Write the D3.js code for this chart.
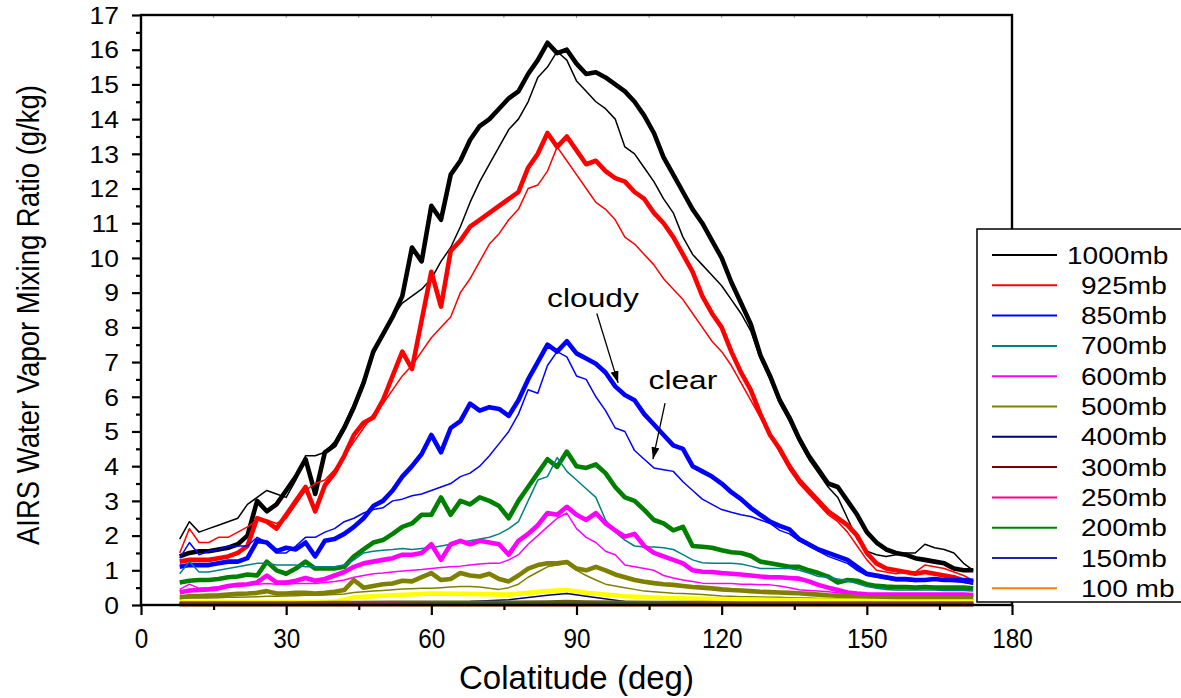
<!DOCTYPE html>
<html>
<head>
<meta charset="utf-8">
<script src="https://cdn.jsdelivr.net/npm/d3@7"></script>
<style>
  html, body { margin: 0; padding: 0; background: #fff; }
  svg { display: block; }
  text { font-family: "Liberation Sans", Arial, Helvetica, sans-serif; fill: #000; }
</style>
</head>
<body>
<svg id="chart" width="1181" height="698"></svg>
<script>
// Colatitude grid (deg) for the main pressure levels
const colat = [8, 10, 12, 14, 16, 18, 20, 22, 24, 26, 28, 30, 32, 34, 36, 38, 40, 42, 44, 46,
  48, 50, 52, 54, 56, 58, 60, 62, 64, 66, 68, 70, 72, 74, 76, 78, 80, 82, 84, 86,
  88, 90, 92, 94, 96, 98, 100, 102, 104, 106, 108, 110, 112, 114, 116, 118, 120, 122, 124, 126,
  128, 130, 132, 134, 136, 138, 140, 142, 144, 146, 148, 150, 152, 154, 156, 158, 160, 162, 164, 166,
  168, 170, 172];

// Coarser grid for the upper levels, whose values stay close to zero
const colatLow = [8, 16, 24, 32, 40, 44, 52, 60, 68, 76, 84, 88, 92, 100, 108, 116, 124, 132, 140, 148, 156, 164, 172];

// Mixing ratio (g/kg): cloudy scenes (thick) and clear scenes (thin)
const cloudy1000 = [1.4, 1.5, 1.55, 1.55, 1.6, 1.65, 1.75, 2.0, 3.0, 2.7,
  2.9, 3.3, 3.7, 4.2, 3.2, 4.4, 4.6, 5.1, 5.7, 6.4,
  7.3, 7.8, 8.3, 8.9, 10.3, 9.9, 11.5, 11.1, 12.4, 12.8,
  13.4, 13.8, 14.0, 14.3, 14.6, 14.8, 15.3, 15.7, 16.2, 15.9,
  16.0, 15.6, 15.3, 15.35, 15.2, 15.0, 14.8, 14.5, 14.1, 13.6,
  12.9, 12.4, 11.9, 11.4, 11.0, 10.5, 10.0, 9.3, 8.7, 8.1,
  7.2, 6.6, 5.9, 5.4, 4.8, 4.3, 3.9, 3.5, 3.4, 3.0,
  2.6, 2.1, 1.8, 1.6, 1.5, 1.45, 1.35, 1.3, 1.25, 1.2,
  1.05, 1.0, 1.0];
const clear1000 = [1.9, 2.4, 2.1, 2.2, 2.3, 2.4, 2.5, 2.9, 3.1, 3.3,
  3.2, 3.1, 3.6, 4.3, 4.3, 4.4, 4.7, 5.2, 5.8, 6.5,
  7.2, 7.8, 8.3, 8.7, 8.9, 9.1, 9.4, 9.9, 10.3, 10.9,
  11.6, 12.2, 12.7, 13.2, 13.7, 14.0, 14.5, 15.2, 15.5, 15.95,
  15.7, 15.1, 14.8, 14.5, 14.3, 14.0, 13.2, 13.0, 12.6, 12.2,
  11.7, 11.3, 10.6, 10.1, 9.8, 9.5, 9.2, 8.8, 8.4, 7.9,
  7.1, 6.5, 5.8, 5.3, 4.7, 4.2, 3.8, 3.4, 3.1, 2.5,
  1.9, 1.55, 1.45, 1.4, 1.45, 1.5, 1.5, 1.75, 1.65, 1.6,
  1.5, 1.2, 1.0];
const cloudy925 = [1.25, 1.3, 1.3, 1.3, 1.35, 1.4, 1.5, 1.7, 2.5, 2.4,
  2.2, 2.6, 3.0, 3.4, 2.7, 3.45, 3.8, 4.3, 4.9, 5.25,
  5.4, 5.9, 6.6, 7.3, 6.8, 8.2, 9.6, 8.6, 10.2, 10.5,
  10.9, 11.1, 11.3, 11.5, 11.7, 11.9, 12.6, 13.0, 13.6, 13.2,
  13.5, 13.1, 12.7, 12.8, 12.5, 12.3, 12.2, 11.9, 11.7, 11.3,
  11.0, 10.6, 10.1, 9.6, 8.9, 8.4, 8.0, 7.3, 6.7, 6.2,
  5.5, 4.9, 4.5, 4.0, 3.6, 3.3, 3.0, 2.7, 2.5, 2.3,
  2.0, 1.5, 1.2, 1.05, 1.0, 0.95, 0.9, 0.95, 0.9, 0.85,
  0.8, 0.7, 0.65];
const clear925 = [1.5, 2.2, 1.8, 1.8, 1.95, 1.95, 2.1, 2.25, 2.45, 2.45,
  2.35, 2.5, 2.9, 3.3, 3.5, 3.6, 3.9, 4.3, 4.7, 5.1,
  5.5, 5.8, 6.2, 6.6, 6.9, 7.3, 7.7, 8.0, 8.3, 9.0,
  9.4, 9.9, 10.4, 10.7, 11.1, 11.4, 12.0, 12.1, 12.5, 13.2,
  12.8, 12.4, 12.0, 11.6, 11.4, 11.1, 10.6, 10.4, 10.1, 9.8,
  9.4, 9.1, 8.8, 8.4, 8.0, 7.6, 7.3, 6.9, 6.4, 5.9,
  5.4, 4.9, 4.4, 3.9, 3.5, 3.2, 2.9, 2.6, 2.4, 2.1,
  1.7, 1.3, 1.0, 0.95, 0.9, 0.95, 0.95, 1.15, 1.1, 1.05,
  0.95, 0.85, 0.7];
const cloudy850 = [1.1, 1.15, 1.15, 1.15, 1.2, 1.25, 1.25, 1.35, 1.85, 1.8,
  1.55, 1.65, 1.6, 1.8, 1.4, 1.85, 1.9, 2.05, 2.25, 2.5,
  2.85, 3.0, 3.3, 3.7, 4.0, 4.35, 4.9, 4.4, 5.1, 5.3,
  5.8, 5.6, 5.7, 5.65, 5.45, 5.9, 6.5, 7.0, 7.5, 7.3,
  7.6, 7.25, 7.1, 6.95, 6.7, 6.3, 6.05, 5.9, 5.5, 5.2,
  4.9, 4.6, 4.5, 4.0, 3.85, 3.7, 3.5, 3.25, 3.05, 2.8,
  2.6, 2.4, 2.28, 2.18, 1.9, 1.75, 1.6, 1.5, 1.4, 1.3,
  1.1, 0.9, 0.85, 0.8, 0.75, 0.75, 0.72, 0.72, 0.75, 0.72,
  0.72, 0.72, 0.7];
const clear850 = [1.35, 1.8, 1.45, 1.55, 1.6, 1.7, 1.7, 1.7, 1.95, 1.8,
  1.5, 1.5, 1.7, 1.95, 1.95, 2.1, 2.2, 2.4, 2.5, 2.65,
  2.75, 2.8, 3.0, 3.05, 3.15, 3.2, 3.3, 3.4, 3.5, 3.7,
  3.8, 4.0, 4.3, 4.65, 5.0, 5.5, 6.2, 6.1, 6.9, 7.3,
  7.15, 6.6, 6.5, 6.0, 5.6, 5.1, 5.0, 4.45, 4.2, 3.95,
  3.9, 3.85, 3.55, 3.3, 3.05, 2.9, 2.75, 2.67, 2.6, 2.55,
  2.45, 2.35, 2.15, 2.05, 1.85, 1.7, 1.55, 1.4, 1.3, 1.2,
  1.0, 0.85, 0.8, 0.75, 0.7, 0.7, 0.68, 0.7, 0.72, 0.7,
  0.68, 0.65, 0.6];
const cloudy700 = [0.65, 0.7, 0.72, 0.72, 0.75, 0.8, 0.82, 0.88, 0.85, 1.25,
  1.0, 0.9, 1.05, 1.25, 1.05, 1.05, 1.05, 1.1, 1.4, 1.6,
  1.8, 1.87, 2.05, 2.25, 2.35, 2.6, 2.6, 3.1, 2.6, 3.0,
  2.9, 3.1, 3.0, 2.85, 2.5, 3.0, 3.4, 3.8, 4.2, 3.98,
  4.42, 4.0, 3.95, 4.05, 3.8, 3.4, 3.1, 3.0, 2.74, 2.45,
  2.35, 2.15, 2.25, 1.7, 1.68, 1.65, 1.58, 1.52, 1.5, 1.42,
  1.25, 1.2, 1.15, 1.1, 1.1, 1.0, 0.92, 0.82, 0.65, 0.72,
  0.7, 0.6, 0.55, 0.53, 0.52, 0.52, 0.5, 0.52, 0.5, 0.5,
  0.5, 0.5, 0.48];
const clear700 = [0.9, 1.25, 0.95, 0.95, 1.0, 1.05, 1.1, 1.15, 1.2, 1.2,
  1.15, 1.15, 1.15, 1.1, 1.1, 1.1, 1.1, 1.15, 1.3, 1.5,
  1.55, 1.58, 1.6, 1.63, 1.6, 1.63, 1.65, 1.7, 1.75, 1.8,
  1.85, 1.9, 1.95, 2.05, 2.2, 2.4, 3.0, 3.6, 3.7, 4.25,
  3.85, 3.6, 3.35, 3.1, 2.45, 2.1, 1.87, 1.7, 1.67, 1.67,
  1.65, 1.6, 1.45, 1.3, 1.22, 1.2, 1.2, 1.2, 1.18, 1.12,
  1.05, 1.05, 1.05, 1.05, 1.0, 0.92, 0.82, 0.8, 0.75, 0.7,
  0.62, 0.53, 0.48, 0.45, 0.43, 0.43, 0.43, 0.43, 0.43, 0.42,
  0.42, 0.42, 0.4];
const cloudy600 = [0.37, 0.42, 0.43, 0.45, 0.48, 0.55, 0.58, 0.6, 0.65, 0.85,
  0.65, 0.65, 0.7, 0.78, 0.7, 0.75, 0.85, 0.95, 1.1, 1.2,
  1.25, 1.3, 1.35, 1.45, 1.45, 1.5, 1.75, 1.3, 1.75, 1.85,
  1.75, 1.85, 1.8, 1.75, 1.45, 1.85, 2.05, 2.3, 2.65, 2.6,
  2.83, 2.6, 2.45, 2.65, 2.35, 2.15, 1.97, 2.05, 1.7, 1.5,
  1.4, 1.3, 1.2, 1.0, 0.96, 0.95, 0.92, 0.9, 0.88, 0.85,
  0.82, 0.8, 0.8, 0.78, 0.76, 0.68, 0.58, 0.5, 0.43, 0.36,
  0.33, 0.31, 0.3, 0.3, 0.3, 0.3, 0.3, 0.3, 0.3, 0.3,
  0.3, 0.3, 0.29];
const clear600 = [0.45, 0.6, 0.48, 0.5, 0.52, 0.55, 0.55, 0.58, 0.6, 0.62,
  0.6, 0.6, 0.62, 0.62, 0.62, 0.65, 0.68, 0.72, 0.8, 0.85,
  0.9, 0.92, 0.95, 0.98, 1.0, 1.02, 1.05, 1.08, 1.1, 1.12,
  1.15, 1.18, 1.2, 1.2, 1.3, 1.45, 1.75, 2.0, 2.25, 2.5,
  2.65, 2.2, 1.95, 1.8, 1.55, 1.45, 1.15, 1.1, 1.05, 1.0,
  0.85, 0.78, 0.72, 0.68, 0.63, 0.62, 0.62, 0.62, 0.6, 0.6,
  0.58, 0.58, 0.55, 0.5, 0.44, 0.42, 0.4, 0.38, 0.35, 0.33,
  0.3, 0.28, 0.27, 0.26, 0.26, 0.26, 0.26, 0.26, 0.25, 0.25,
  0.25, 0.25, 0.25];
const cloudy500 = [0.23, 0.25, 0.26, 0.27, 0.28, 0.3, 0.32, 0.33, 0.35, 0.4,
  0.33, 0.33, 0.35, 0.35, 0.33, 0.35, 0.38, 0.43, 0.72, 0.5,
  0.55, 0.6, 0.62, 0.7, 0.68, 0.8, 0.92, 0.72, 0.75, 0.92,
  0.85, 0.82, 0.9, 0.75, 0.68, 0.85, 1.05, 1.15, 1.2, 1.2,
  1.24, 1.05, 1.0, 1.1, 1.0, 0.88, 0.8, 0.72, 0.67, 0.63,
  0.6, 0.58, 0.55, 0.52, 0.5, 0.48, 0.45, 0.43, 0.42, 0.4,
  0.38, 0.37, 0.36, 0.35, 0.34, 0.32, 0.3, 0.28, 0.27, 0.25,
  0.22, 0.2, 0.2, 0.2, 0.2, 0.2, 0.2, 0.2, 0.2, 0.2,
  0.2, 0.2, 0.2];
const clear500 = [0.18, 0.2, 0.2, 0.2, 0.21, 0.22, 0.22, 0.23, 0.24, 0.25,
  0.25, 0.26, 0.27, 0.28, 0.28, 0.29, 0.3, 0.32, 0.36, 0.38,
  0.4, 0.42, 0.44, 0.46, 0.47, 0.48, 0.48, 0.5, 0.52, 0.53,
  0.53, 0.52, 0.48, 0.45, 0.5, 0.6, 0.8, 0.95, 1.1, 1.15,
  1.2, 1.0, 0.85, 0.72, 0.6, 0.55, 0.5, 0.45, 0.4, 0.38,
  0.36, 0.34, 0.33, 0.32, 0.3, 0.28, 0.26, 0.25, 0.24, 0.24,
  0.23, 0.22, 0.22, 0.21, 0.2, 0.2, 0.19, 0.19, 0.18, 0.18,
  0.17, 0.16, 0.16, 0.16, 0.15, 0.15, 0.15, 0.15, 0.15, 0.15,
  0.15, 0.15, 0.15];
const cloudy400 = [0.08, 0.08, 0.08, 0.08, 0.09, 0.22, 0.28, 0.33, 0.32, 0.3, 0.4, 0.43, 0.35, 0.25, 0.2, 0.18, 0.16, 0.14, 0.13, 0.12, 0.1, 0.1, 0.1];
const clear400 = [0.03, 0.03, 0.04, 0.04, 0.04, 0.05, 0.06, 0.08, 0.1, 0.15, 0.28, 0.33, 0.25, 0.1, 0.06, 0.05, 0.05, 0.04, 0.04, 0.04, 0.04, 0.04, 0.04];
const cloudy300 = [0.06, 0.06, 0.06, 0.06, 0.07, 0.07, 0.08, 0.08, 0.08, 0.08, 0.09, 0.1, 0.09, 0.08, 0.07, 0.07, 0.06, 0.06, 0.06, 0.06, 0.06, 0.06, 0.06];
const clear300 = [0.04, 0.04, 0.04, 0.04, 0.05, 0.05, 0.05, 0.05, 0.06, 0.06, 0.08, 0.09, 0.07, 0.05, 0.05, 0.05, 0.04, 0.04, 0.04, 0.04, 0.04, 0.04, 0.04];
const cloudy250 = [0.04, 0.04, 0.04, 0.04, 0.04, 0.05, 0.05, 0.05, 0.05, 0.05, 0.06, 0.06, 0.06, 0.05, 0.05, 0.04, 0.04, 0.04, 0.04, 0.04, 0.04, 0.04, 0.04];
const clear250 = [0.03, 0.03, 0.03, 0.03, 0.03, 0.03, 0.04, 0.04, 0.04, 0.04, 0.05, 0.05, 0.05, 0.04, 0.04, 0.03, 0.03, 0.03, 0.03, 0.03, 0.03, 0.03, 0.03];
const cloudy200 = [0.02, 0.02, 0.02, 0.02, 0.02, 0.02, 0.02, 0.03, 0.03, 0.03, 0.03, 0.03, 0.03, 0.03, 0.03, 0.02, 0.02, 0.02, 0.02, 0.02, 0.02, 0.02, 0.02];
const clear200 = [0.02, 0.02, 0.02, 0.02, 0.02, 0.02, 0.02, 0.02, 0.02, 0.02, 0.03, 0.03, 0.03, 0.02, 0.02, 0.02, 0.02, 0.02, 0.02, 0.02, 0.02, 0.02, 0.02];
const cloudy150 = [0.01, 0.01, 0.01, 0.01, 0.01, 0.01, 0.01, 0.01, 0.01, 0.01, 0.01, 0.01, 0.01, 0.01, 0.01, 0.01, 0.01, 0.01, 0.01, 0.01, 0.01, 0.01, 0.01];
const clear150 = [0.01, 0.01, 0.01, 0.01, 0.01, 0.01, 0.01, 0.01, 0.01, 0.01, 0.01, 0.01, 0.01, 0.01, 0.01, 0.01, 0.01, 0.01, 0.01, 0.01, 0.01, 0.01, 0.01];
const cloudy100 = [0.005, 0.005, 0.005, 0.005, 0.005, 0.005, 0.005, 0.005, 0.005, 0.005, 0.005, 0.005, 0.005, 0.005, 0.005, 0.005, 0.005, 0.005, 0.005, 0.005, 0.005, 0.005, 0.005];
const clear100 = [0.005, 0.005, 0.005, 0.005, 0.005, 0.005, 0.005, 0.005, 0.005, 0.005, 0.005, 0.005, 0.005, 0.005, 0.005, 0.005, 0.005, 0.005, 0.005, 0.005, 0.005, 0.005, 0.005];

// Legend entries and tick values
const levels = ["1000mb", "925mb", "850mb", "700mb", "600mb", "500mb", "400mb", "300mb", "250mb", "200mb", "150mb", "100 mb"];
const clearColors = ["#000000", "#ff0000", "#0000ff", "#008080", "#ff00ff", "#808000", "#000080", "#800000", "#ff0080", "#008000", "#2020b0", "#ff8000"];
const cloudyColors = ["#000000", "#ff0000", "#0000ff", "#008000", "#ff00ff", "#808000", "#ffff00", "#6b5a00", "#ff0080", "#007000", "#2020b0", "#ff8000"];
const xTicks = [0, 30, 60, 90, 120, 150, 180];
const yTicks = [0, 1, 2, 3, 4, 5, 6, 7, 8, 9, 10, 11, 12, 13, 14, 15, 16, 17];

const cloudySeries = [cloudy1000, cloudy925, cloudy850, cloudy700, cloudy600, cloudy500, cloudy400, cloudy300, cloudy250, cloudy200, cloudy150, cloudy100];
const clearSeries = [clear1000, clear925, clear850, clear700, clear600, clear500, clear400, clear300, clear250, clear200, clear150, clear100];

const svg = d3.select("#chart");
const plotL = 141, plotR = 1012, plotT = 15, plotB = 605;

const x = d3.scaleLinear().domain([0, 180]).range([plotL, plotR]);
const y = d3.scaleLinear().domain([0, 17]).range([plotB, plotT]);

// Stretch or squeeze a text run horizontally by factor k
function stretch(sel, k) {
  sel.each(function () {
    const w = this.getComputedTextLength();
    d3.select(this).attr("textLength", w * k).attr("lengthAdjust", "spacingAndGlyphs");
  });
}

// ---- data lines ----
const gLines = svg.append("g");
const line = d3.line().x(d => x(d[0])).y(d => y(d[1]));

// draw order: level by level, cloudy (thick) then clear (thin); 200 mb cloudy last so it sits on the baseline
const order = [0, 1, 2, 3, 4, 5, 6, 7, 8, 10, 11, 9];
order.forEach(i => {
  const grid = cloudySeries[i].length === colat.length ? colat : colatLow;
  const cpts = grid.map((c, k) => [c, cloudySeries[i][k]]);
  const tpts = grid.map((c, k) => [c, clearSeries[i][k]]);
  gLines.append("path").attr("d", line(cpts))
    .attr("fill", "none").attr("stroke", cloudyColors[i])
    .attr("stroke-width", i < 7 ? 4.6 : 3.5).attr("stroke-linejoin", "round");
  gLines.append("path").attr("d", line(tpts))
    .attr("fill", "none").attr("stroke", clearColors[i])
    .attr("stroke-width", 1.5).attr("stroke-linejoin", "round");
});

// ---- axes ----
const xAxis = d3.axisBottom(x).tickValues(xTicks).tickSize(10).tickFormat(d3.format("d"));
const xMinor = d3.axisBottom(x).tickValues([15, 45, 75, 105, 135, 165]).tickSize(5).tickFormat("");
const yAxis = d3.axisLeft(y).tickValues(yTicks).tickSize(9).tickFormat(d3.format("d"));
const yMinor = d3.axisLeft(y).tickValues(d3.range(0.5, 17, 1)).tickSize(5).tickFormat("");

const gx = svg.append("g").attr("transform", `translate(0,${plotB})`).call(xAxis);
svg.append("g").attr("transform", `translate(0,${plotB})`).call(xMinor);
const gy = svg.append("g").attr("transform", `translate(${plotL},0)`).call(yAxis);
svg.append("g").attr("transform", `translate(${plotL},0)`).call(yMinor);

svg.selectAll(".domain").remove();
svg.selectAll(".tick line").attr("stroke", "#000").attr("stroke-width", 2.2);

gx.selectAll(".tick text").attr("font-size", 27).attr("dy", null).attr("y", 43)
  .attr("font-family", "'Liberation Sans', Arial, sans-serif").attr("fill", "#000");
stretch(gx.selectAll(".tick text"), 0.9);
gy.selectAll(".tick text").attr("font-size", 23).attr("x", -22).attr("dy", "0.36em")
  .attr("font-family", "'Liberation Sans', Arial, sans-serif").attr("fill", "#000");
stretch(gy.selectAll(".tick text"), 1.15);

// faint inner ticks on the top edge
svg.append("g").selectAll("line").data([15, 30, 45, 60, 75, 90, 105, 120, 135, 150, 165]).join("line")
  .attr("x1", d => x(d)).attr("x2", d => x(d)).attr("y1", plotT).attr("y2", plotT + 3)
  .attr("stroke", "#999").attr("stroke-width", 1);

// plot frame
svg.append("rect").attr("x", plotL).attr("y", plotT).attr("width", plotR - plotL).attr("height", plotB - plotT)
  .attr("fill", "none").attr("stroke", "#000").attr("stroke-width", 2.4);

// ---- axis titles ----
svg.append("text").attr("x", (plotL + plotR) / 2).attr("y", 689)
  .attr("text-anchor", "middle").attr("font-size", 33)
  .attr("textLength", 235).attr("lengthAdjust", "spacingAndGlyphs")
  .text("Colatitude (deg)");

svg.append("text").attr("transform", "translate(39,315) rotate(-90)")
  .attr("text-anchor", "middle").attr("font-size", 31)
  .attr("textLength", 460).attr("lengthAdjust", "spacingAndGlyphs")
  .text("AIRS Water Vapor Mixing Ratio (g/kg)");

// ---- annotations ----
const defs = svg.append("defs");
defs.append("marker").attr("id", "arrow").attr("viewBox", "0 0 12 8")
  .attr("refX", 12).attr("refY", 4).attr("markerWidth", 12).attr("markerHeight", 8)
  .attr("markerUnits", "userSpaceOnUse").attr("orient", "auto")
  .append("path").attr("d", "M0,0 L12,4 L0,8 Z").attr("fill", "#000");

const notes = [
  { label: "cloudy", tx: 93.4, ty: 8.6, from: [94.2, 8.4], to: [98.6, 6.4] },
  { label: "clear", tx: 112.0, ty: 6.22, from: [108.3, 5.82], to: [105.8, 4.2] }
];
notes.forEach(n => {
  const t = svg.append("text").attr("x", x(n.tx)).attr("y", y(n.ty))
    .attr("text-anchor", "middle").attr("font-size", 26).text(n.label);
  stretch(t, 1.22);
  svg.append("line").attr("x1", x(n.from[0])).attr("y1", y(n.from[1]))
    .attr("x2", x(n.to[0])).attr("y2", y(n.to[1]))
    .attr("stroke", "#000").attr("stroke-width", 1.3).attr("marker-end", "url(#arrow)");
});

// ---- legend ----
const lg = svg.append("g");
lg.append("rect").attr("x", 977).attr("y", 229).attr("width", 220).attr("height", 373)
  .attr("fill", "#fff").attr("stroke", "#000").attr("stroke-width", 1.5);
levels.forEach((lab, i) => {
  const yy = 255 + i * 30.3;
  lg.append("line").attr("x1", 992).attr("x2", 1057).attr("y1", yy).attr("y2", yy)
    .attr("stroke", clearColors[i]).attr("stroke-width", 2);
  const t = lg.append("text").attr("x", i === 0 ? 1067 : 1081).attr("y", yy + 8.5)
    .attr("font-size", 23).text(lab);
  stretch(t, 1.22);
});
</script>
</body>
</html>
